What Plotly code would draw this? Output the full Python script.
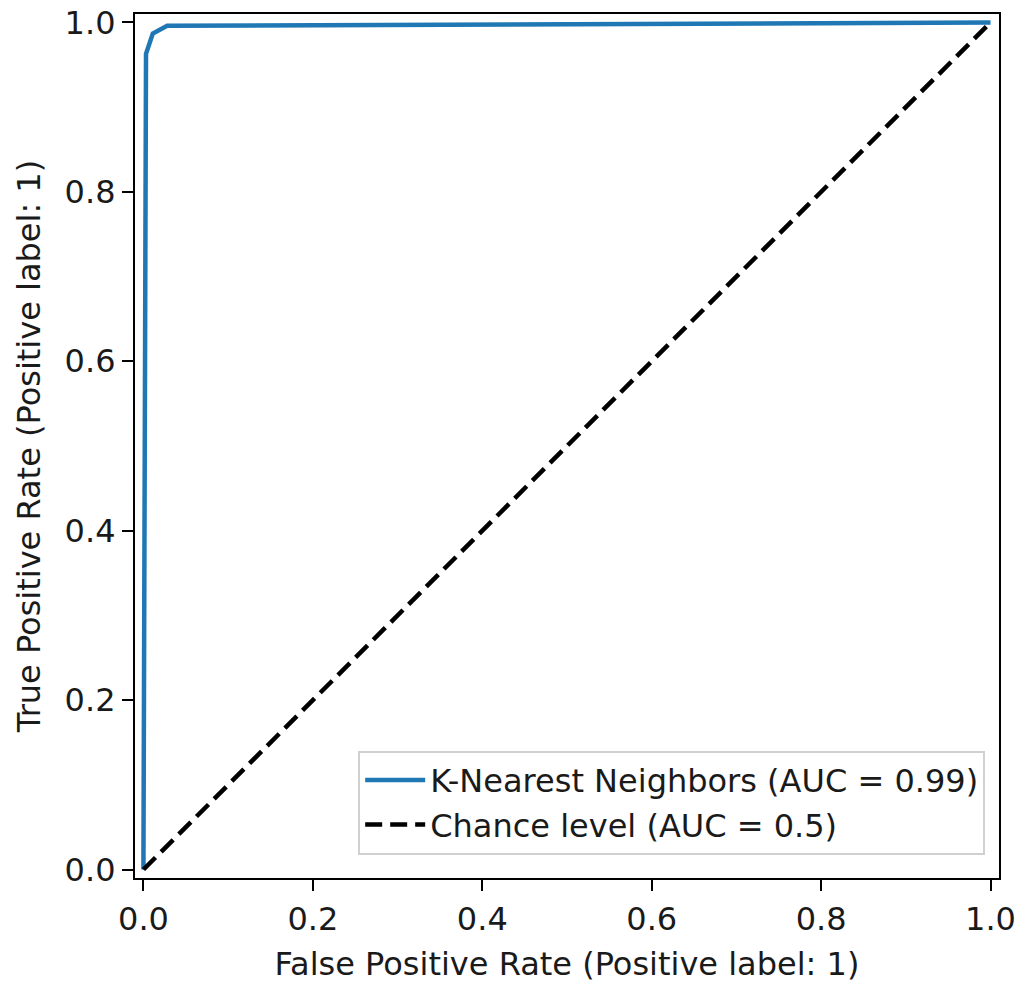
import plotly.graph_objects as go

# ROC curve data
fpr = [0.0, 0.0, 0.003, 0.011, 0.028, 1.0]
tpr = [0.0, 0.02, 0.963, 0.987, 0.996, 1.0]
chance_x = [0.0, 1.0]
chance_y = [0.0, 1.0]
knn_label = "K-Nearest Neighbors (AUC = 0.99)"
chance_label = "Chance level (AUC = 0.5)"
tick_vals = [0.0, 0.2, 0.4, 0.6, 0.8, 1.0]
tick_text = ["0.0", "0.2", "0.4", "0.6", "0.8", "1.0"]

FONT = "DejaVu Sans"
FS = 32
TXT = "#1a1a1a"

fig = go.Figure()
fig.add_trace(go.Scatter(x=fpr, y=tpr, mode="lines", name=knn_label,
                         line=dict(color="#1f77b4", width=4.5)))
fig.add_trace(go.Scatter(x=chance_x, y=chance_y, mode="lines", name=chance_label,
                         line=dict(color="black", width=4.5, dash="17px,8px")))

axis_common = dict(
    showline=True, linecolor="black", linewidth=2.2, mirror=True,
    ticks="outside", ticklen=11, tickwidth=2.2, tickcolor="black",
    showgrid=False, zeroline=False, automargin=False,
    tickvals=tick_vals, ticktext=tick_text,
    tickfont=dict(family=FONT, size=FS, color=TXT),
    ticklabeloverflow="allow",
)

fig.update_layout(
    width=1019, height=983, autosize=False,
    margin=dict(l=135, r=20, t=14, b=105),
    paper_bgcolor="white", plot_bgcolor="white",
    font=dict(family=FONT, size=FS, color=TXT),
    xaxis=dict(range=[-0.01, 1.01],
               title=dict(text="False Positive Rate (Positive label: 1)",
                          font=dict(family=FONT, size=FS, color=TXT), standoff=18),
               **axis_common),
    yaxis=dict(range=[-0.01, 1.01],
               title=dict(text="True Positive Rate (Positive label: 1)",
                          font=dict(family=FONT, size=FS, color=TXT), standoff=14),
               **axis_common),
    legend=dict(x=0.984, y=0.027, xanchor="right", yanchor="bottom",
                bgcolor="rgba(255,255,255,0.8)", bordercolor="#d0d0d0", borderwidth=2,
                font=dict(family=FONT, size=FS, color=TXT),
                itemwidth=60, tracegroupgap=4),
    showlegend=True,
)

fig.write_html("out.html",
               config={"displayModeBar": False},
               post_script="document.body.style.margin='0';document.body.style.overflow='hidden';")
